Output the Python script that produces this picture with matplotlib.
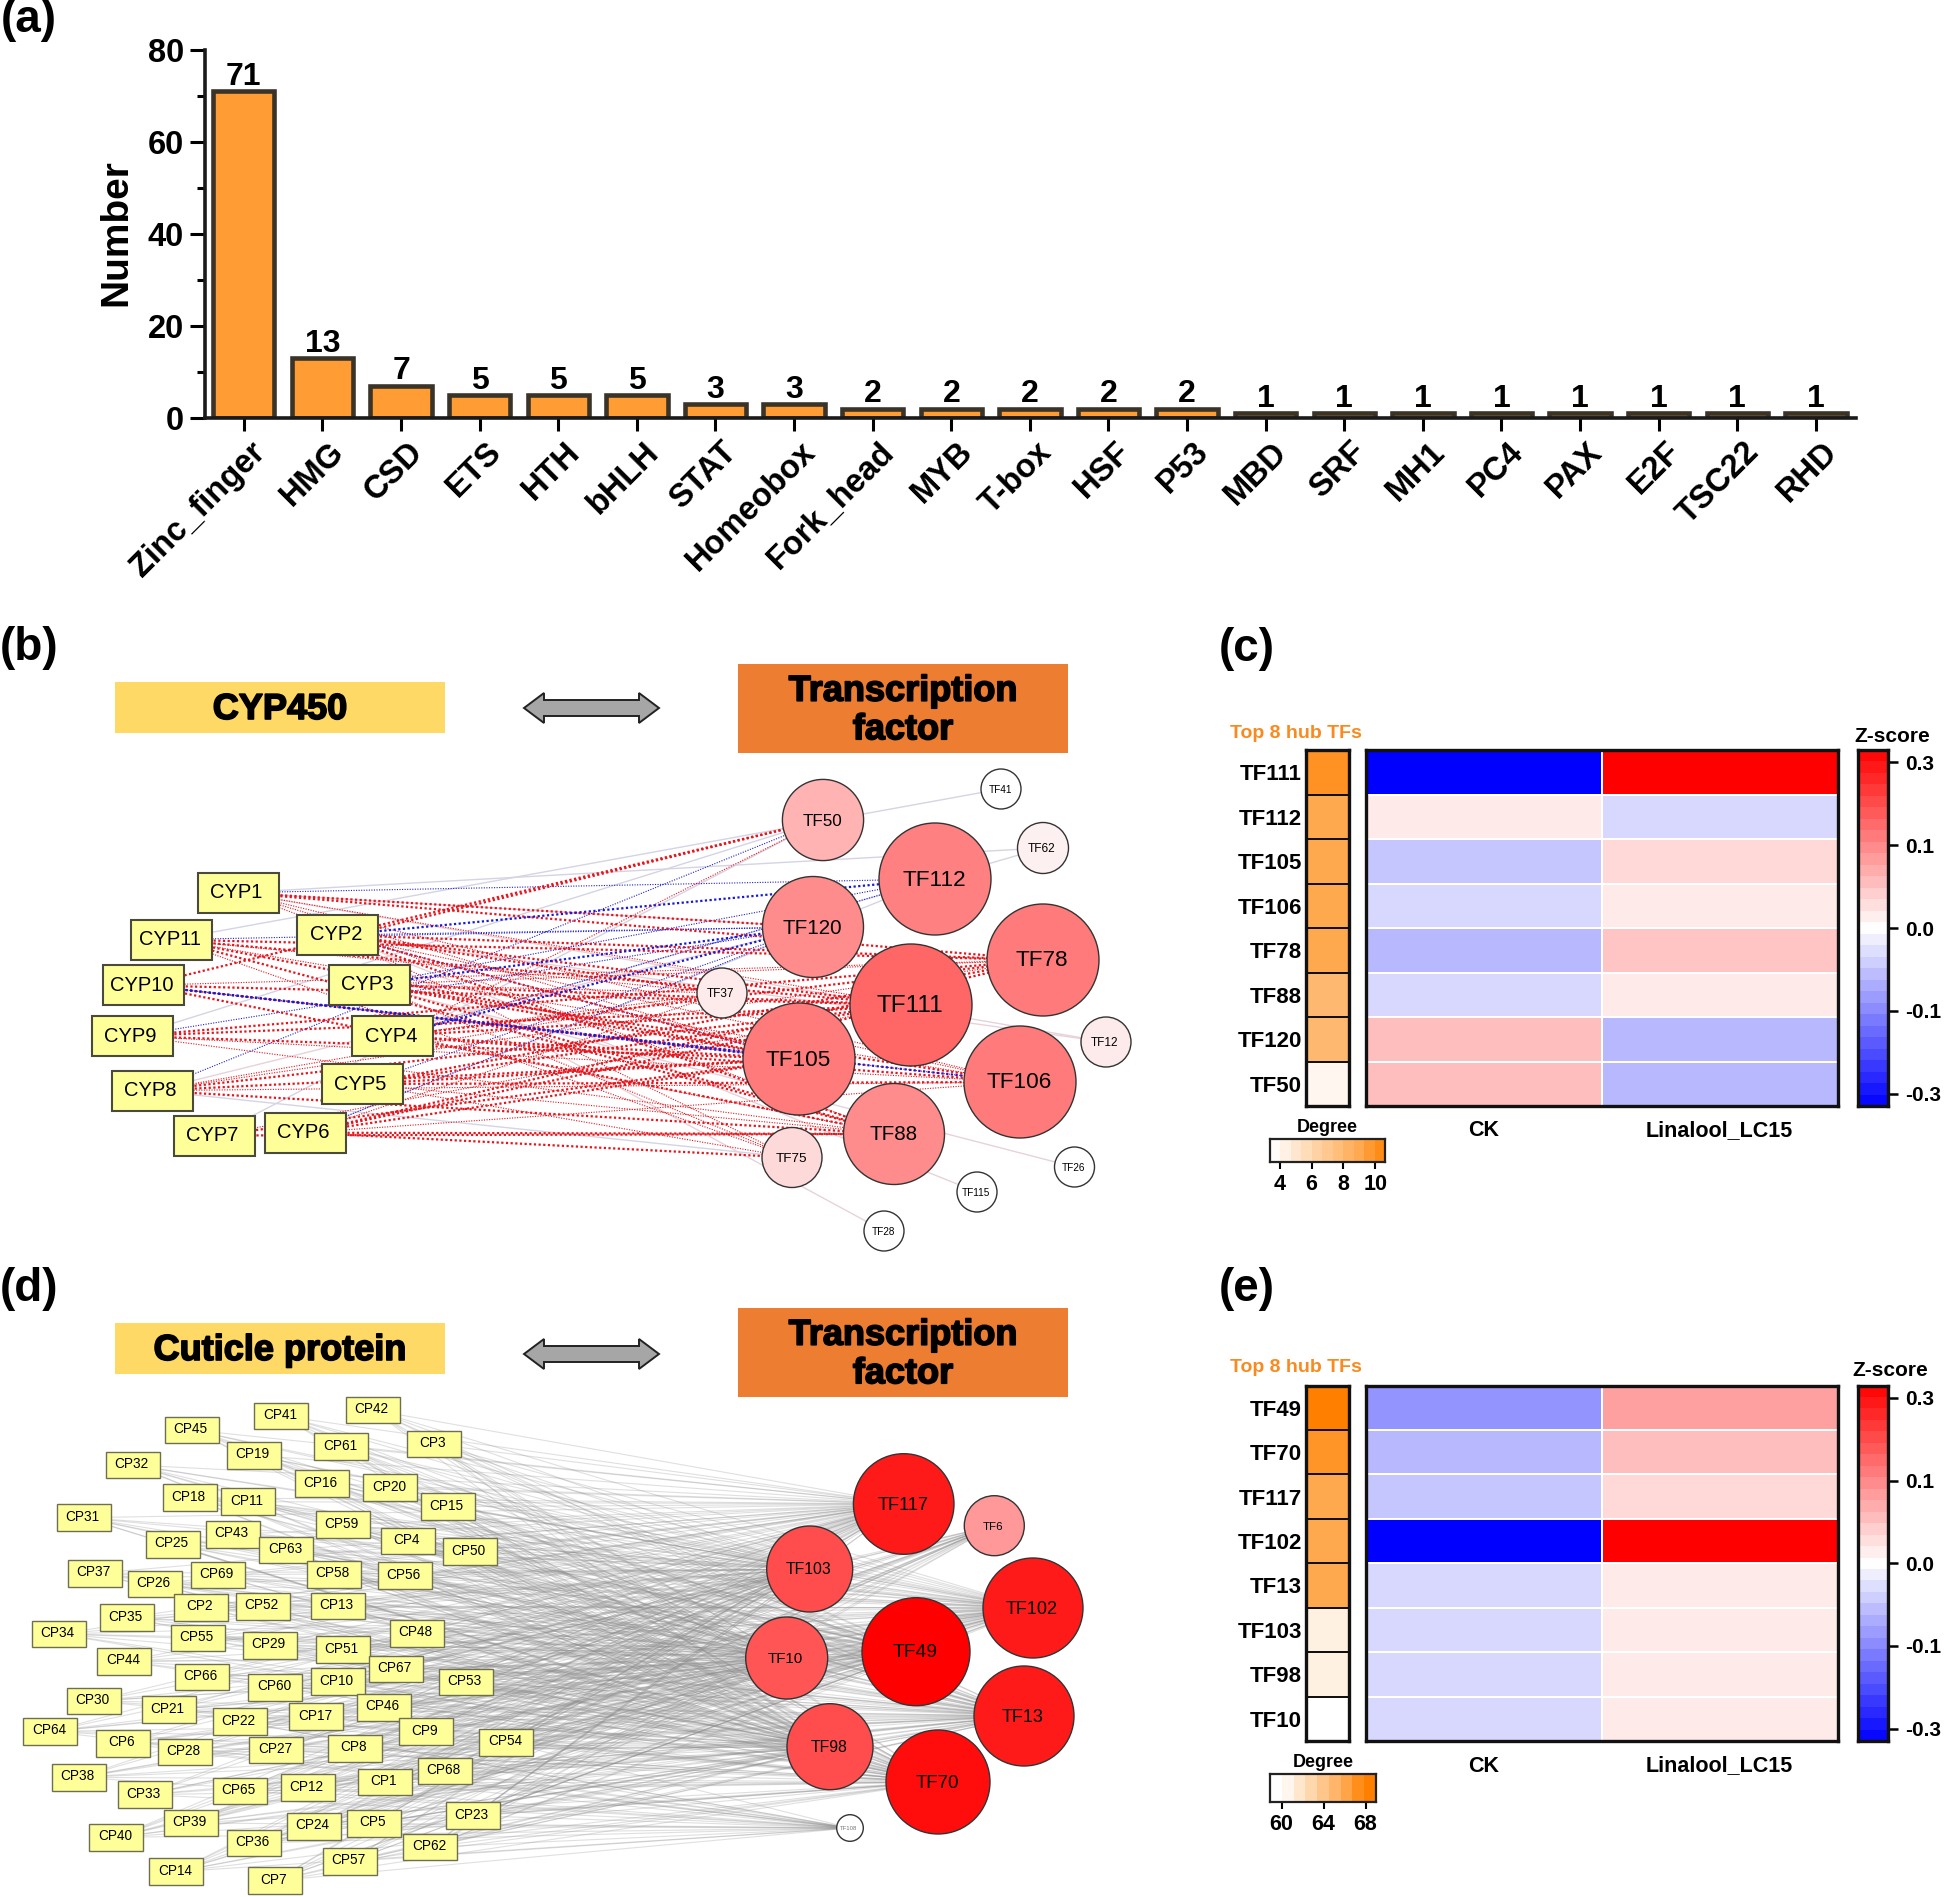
import matplotlib
matplotlib.use('Agg')
import matplotlib.pyplot as plt
import matplotlib.patheffects as pe
from matplotlib.collections import LineCollection
from matplotlib.colors import LinearSegmentedColormap, ListedColormap, BoundaryNorm, Normalize
from matplotlib.patches import Circle, Polygon, Rectangle
from matplotlib.transforms import ScaledTranslation
import numpy as np

plt.rcParams['font.family'] = ['Liberation Sans', 'DejaVu Sans']

W, H = 1944, 1897

# (a) TF families
families = ['Zinc_finger', 'HMG', 'CSD', 'ETS', 'HTH', 'bHLH', 'STAT', 'Homeobox', 'Fork_head', 'MYB', 'T-box',
            'HSF', 'P53', 'MBD', 'SRF', 'MH1', 'PC4', 'PAX', 'E2F', 'TSC22', 'RHD']
family_counts = [71, 13, 7, 5, 5, 5, 3, 3, 2, 2, 2, 2, 2, 1, 1, 1, 1, 1, 1, 1, 1]

# (b) network layout, picture pixels
cyp_names = ['CYP1', 'CYP2', 'CYP3', 'CYP4', 'CYP5', 'CYP6', 'CYP7', 'CYP8', 'CYP9', 'CYP10', 'CYP11']
cyp_x = [238.5, 337.8, 369.5, 392.8, 362, 305.5, 214.4, 152.7, 132.4, 143.7, 171.6]
cyp_y = [892.7, 935, 984.5, 1036, 1084, 1132.7, 1135.5, 1090.6, 1036, 985.3, 939.6]

b_tf_names = ['TF50', 'TF41', 'TF62', 'TF112', 'TF120', 'TF78', 'TF37', 'TF111', 'TF105', 'TF12', 'TF106', 'TF88',
              'TF75', 'TF26', 'TF115', 'TF28']
b_tf_x = [823, 1001, 1043, 935, 813, 1043, 722, 911, 799, 1106, 1020, 894, 792, 1074.5, 977, 884]
b_tf_y = [820, 789, 848, 879, 927, 960, 993, 1005, 1059, 1042, 1082, 1134, 1157.5, 1167, 1192, 1231]
b_tf_r = [40.6, 20, 25.5, 56, 50.5, 56, 25, 61, 56, 25, 56, 50.5, 30, 20, 20, 20]
b_tf_colors = ['#ffb3b3', '#ffffff', '#fdf0f0', '#ff8080', '#ff8c8c', '#ff7a7a', '#fdeaea', '#ff6666', '#ff7a7a',
               '#fdeaea', '#ff7a7a', '#ff8c8c', '#fdd9d9', '#ffffff', '#ffffff', '#ffffff']

# (b) edges as (CYP number, TF name)
red_strong = [(1, 'TF120'), (1, 'TF78'), (2, 'TF50'), (2, 'TF111'), (2, 'TF105'), (2, 'TF78'), (2, 'TF88'), (2, 'TF37'),
              (3, 'TF111'), (3, 'TF105'), (3, 'TF88'), (3, 'TF106'), (4, 'TF111'), (4, 'TF105'), (4, 'TF106'),
              (4, 'TF78'), (5, 'TF111'), (5, 'TF105'), (5, 'TF78'), (5, 'TF106'), (6, 'TF88'), (6, 'TF105'),
              (6, 'TF111'), (6, 'TF78'), (6, 'TF75'), (7, 'TF88'), (7, 'TF105'), (8, 'TF111'), (8, 'TF105'),
              (8, 'TF88'), (9, 'TF111'), (9, 'TF105'), (9, 'TF78'), (10, 'TF50'), (10, 'TF111'), (10, 'TF88'),
              (11, 'TF78'), (11, 'TF111'), (11, 'TF105'), (11, 'TF88')]
red_thin = [(1, 'TF111'), (1, 'TF105'), (1, 'TF88'), (1, 'TF106'), (2, 'TF106'), (2, 'TF75'), (3, 'TF78'), (3, 'TF37'),
            (3, 'TF75'), (4, 'TF88'), (4, 'TF37'), (4, 'TF50'), (5, 'TF88'), (5, 'TF75'), (6, 'TF106'), (6, 'TF37'),
            (7, 'TF111'), (8, 'TF106'), (8, 'TF37'), (8, 'TF78'), (9, 'TF88'), (9, 'TF106'), (10, 'TF105'),
            (10, 'TF78'), (10, 'TF106'), (11, 'TF37'), (11, 'TF106'), (11, 'TF75')]
blue_strong = [(2, 'TF112'), (3, 'TF120'), (4, 'TF120'), (10, 'TF106'), (10, 'TF105')]
blue_thin = [(1, 'TF112'), (11, 'TF120'), (3, 'TF112'), (4, 'TF112'), (9, 'TF120'), (8, 'TF50'), (5, 'TF120'),
             (6, 'TF120'), (2, 'TF120'), (2, 'TF105')]
faint_blue = [(1, 'TF120'), (11, 'TF41'), (1, 'TF62'), (7, 'TF50'), (8, 'TF75'), (4, 'TF62'), (9, 'TF50'), (6, 'TF112')]
faint_red = [(1, 'TF12'), (3, 'TF26'), (2, 'TF115'), (2, 'TF28'), (10, 'TF105'), (8, 'TF120'), (2, 'TF12')]

cp_numbers = [42, 3, 41, 45, 61, 19, 32, 16, 20, 15, 18, 11, 31, 59, 43, 25, 4, 63, 50, 37, 26, 69, 58, 56, 2, 52, 13,
              35, 34, 55, 29, 51, 48, 44, 66, 60, 10, 67, 53, 30, 21, 22, 17, 46, 9, 64, 6, 28, 27, 8, 54, 68, 38, 33,
              65, 12, 1, 23, 39, 24, 5, 40, 36, 62, 14, 57, 7]
cp_crop_x = [1043, 1214, 788, 538, 956, 712, 372, 901, 1093, 1255, 532, 694, 234, 961, 652, 483, 1141, 802, 1315, 265,
             433, 609, 936, 1133, 564, 735, 947, 355, 164, 555, 756, 959, 1167, 348, 565, 771, 946, 1109, 1304, 263,
             473, 671, 886, 1076, 1192, 141, 345, 517, 774, 994, 1418, 1247, 220, 406, 672, 862, 1078, 1324, 535, 879,
             1046, 326, 712, 1205, 494, 980, 770]
cp_crop_y = [90, 192, 108, 150, 200, 226, 255, 311, 323, 380, 353, 365, 413, 434, 463, 493, 483, 510, 515, 580, 612,
             585, 583, 587, 682, 679, 678, 713, 762, 774, 796, 809, 760, 844, 891, 922, 905, 867, 906, 963, 989, 1025,
             1010, 982, 1055, 1054, 1090, 1116, 1110, 1105, 1087, 1173, 1192, 1244, 1233, 1223, 1206, 1307, 1329, 1339,
             1330, 1372, 1389, 1401, 1475, 1444, 1502]

d_tf_names = ['TF117', 'TF6', 'TF103', 'TF102', 'TF49', 'TF10', 'TF13', 'TF98', 'TF70', 'TF108']
d_tf_x = [903.7, 994.3, 809.7, 1033, 916, 786.7, 1024, 830, 938, 850]
d_tf_y = [1504, 1525.7, 1569, 1608, 1651.7, 1658, 1716, 1746.7, 1782, 1828]
d_tf_r = [50.3, 30, 43, 50, 54, 41, 50, 43, 52, 13.3]
d_tf_colors = ['#ff1a1a', '#ff9999', '#ff4d4d', '#ff1a1a', '#ff0000', '#ff5555', '#ff1a1a', '#ff4d4d', '#ff0d0d',
               '#ffffff']

# TF6 and TF108 only link a part of the cuticle proteins
tf6_links = [1, 5, 7, 8, 9, 10, 12, 14, 17, 23, 24, 27, 36, 39, 40, 46, 53, 54, 57, 60, 62, 65, 67, 68]
tf108_links = [1, 5, 6, 7, 8, 12, 14, 21, 22, 23, 24, 27, 28, 33, 36, 38, 39, 40, 54, 57, 62, 64, 65, 68]

# (c) and (e) heatmaps
z_groups = ['CK', 'Linalool_LC15']
c_tfs = ['TF111', 'TF112', 'TF105', 'TF106', 'TF78', 'TF88', 'TF120', 'TF50']
c_degree = [10, 9, 9, 9, 9, 8, 8, 4]
c_ck = [-0.33, 0.017, -0.048, -0.032, -0.06, -0.032, 0.054, 0.054]
c_lc15 = [0.33, -0.032, 0.032, 0.017, 0.05, 0.017, -0.06, -0.06]

e_tfs = ['TF49', 'TF70', 'TF117', 'TF102', 'TF13', 'TF103', 'TF98', 'TF10']
e_degree = [68, 67, 66, 66, 66, 61, 61, 60]
e_ck = [-0.09, -0.06, -0.048, -0.33, -0.032, -0.032, -0.032, -0.032]
e_lc15 = [0.08, 0.054, 0.032, 0.33, 0.017, 0.017, 0.017, 0.017]

z_ticks = [-0.3, -0.1, 0.0, 0.1, 0.3]
z_tick_labels = ['-0.3', '-0.1', '0.0', '0.1', '0.3']

fig = plt.figure(figsize=(W / 100, H / 100), dpi=100, facecolor='white')

# Whole-figure axes in pixel units for the network panels and loose labels
canvas = fig.add_axes([0, 0, 1, 1], zorder=0)
canvas.set_xlim(0, W)
canvas.set_ylim(H, 0)
canvas.axis('off')


def px_axes(x0, y0, x1, y1, zorder=2):
    """Make an axes from pixel corners (y measured from the top)."""
    return fig.add_axes([x0 / W, 1 - y1 / H, (x1 - x0) / W, (y1 - y0) / H], zorder=zorder)


def draw_banner(x0, y0, x1, y1, color, text):
    canvas.add_patch(Rectangle((x0, y0), x1 - x0, y1 - y0, facecolor=color, edgecolor='none'))
    t = canvas.text((x0 + x1) / 2, (y0 + y1) / 2 + 2, text, ha='center', va='center', fontsize=26, fontweight='bold',
                    linespacing=1.13, color='black')
    t.set_path_effects([pe.withStroke(linewidth=1.2, foreground='black')])


def draw_double_arrow(y):
    x0, x1 = 524, 659
    shape = [(x0, y), (x0 + 20, y - 15), (x0 + 20, y - 8), (x1 - 20, y - 8), (x1 - 20, y - 15), (x1, y),
             (x1 - 20, y + 15), (x1 - 20, y + 8), (x0 + 20, y + 8), (x0 + 20, y + 15)]
    canvas.add_patch(Polygon(shape, closed=True, facecolor='#a6a6a6', edgecolor='#222222', linewidth=1.4))


def draw_tf_nodes(names, xs, ys, rs, colors, sizes, zorder=6):
    for name, x, y, r, color, size in zip(names, xs, ys, rs, colors, sizes):
        canvas.add_patch(Circle((x, y), r, facecolor=color, edgecolor='#333333', linewidth=1.0, zorder=zorder))
        text_color = '#777777' if name == 'TF108' else 'black'
        canvas.text(x - 1, y + 1, name, ha='center', va='center', fontsize=size, color=text_color, zorder=zorder + 1)


def draw_edges(pairs, cyp_pos, tf_pos, color, lw, style, alpha=1.0):
    segs = [[cyp_pos[c], tf_pos[t]] for c, t in pairs]
    canvas.add_collection(LineCollection(segs, colors=color, linewidths=lw, linestyles=style, alpha=alpha, zorder=2))


def z_to_pos(z):
    """Colour bar position of a z-score; the bar's tick labels are not linear."""
    return np.interp(z, [-0.33, -0.3, -0.1, 0.0, 0.1, 0.3, 0.33], [-2.15, -2, -1, 0, 1, 2, 2.15])


def draw_heatmap(top, bottom, tfs, degree, ck, lc15, deg_range, z_title_xy, hub_y, deg_bar, deg_ticks, label_y):
    left, right = 1365.6, 1838

    # Degree column
    ax_deg = px_axes(1306, top, 1349, bottom)
    ax_deg.pcolormesh(np.array(degree)[::-1].reshape(-1, 1), cmap=degree_cmap,
                      norm=Normalize(*deg_range), edgecolors='#111111', linewidth=1.2)
    ax_deg.set_xticks([])
    ax_deg.set_yticks(np.arange(len(tfs)) + 0.5)
    ax_deg.set_yticklabels(tfs[::-1], fontsize=16, fontweight='bold')
    ax_deg.tick_params(axis='y', length=0, pad=3)
    for s in ax_deg.spines.values():
        s.set_linewidth(2.4)
        s.set_color('#111111')

    # Z-score block
    ax_main = px_axes(left, top, right, bottom)
    cells = np.column_stack([ck, lc15])[::-1]
    ax_main.pcolormesh(z_to_pos(cells), cmap='bwr', norm=Normalize(-2.15, 2.15), edgecolors='white', linewidth=1.2)
    ax_main.set_xticks([])
    ax_main.set_yticks([])
    for s in ax_main.spines.values():
        s.set_linewidth(2.4)
        s.set_color('#111111')

    # Z-score colour bar, ticks are evenly spaced although their labels are not
    ax_bar = px_axes(1857.5, top, 1888, bottom)
    levels = np.linspace(-2.15, 2.15, 32)
    mids = (levels[:-1] + levels[1:]) / 2
    bar_cmap = ListedColormap(plt.get_cmap('bwr')((mids + 2.15) / 4.3))
    ax_bar.pcolormesh([0, 1], levels, mids.reshape(-1, 1), cmap=bar_cmap, norm=BoundaryNorm(levels, 31))
    ax_bar.set_xticks([])
    ax_bar.yaxis.tick_right()
    ax_bar.set_yticks(z_to_pos(np.array(z_ticks)))
    ax_bar.set_yticklabels(z_tick_labels, fontsize=15, fontweight='bold')
    ax_bar.tick_params(axis='y', length=7, width=1.8, pad=5)
    for s in ax_bar.spines.values():
        s.set_linewidth(2.4)
        s.set_color('#111111')

    # Degree legend
    x0, y0, x1, y1, vmin, vmax, steps = deg_bar
    ax_leg = px_axes(x0, y0, x1, y1)
    edges = np.linspace(vmin, vmax, steps + 1)
    leg_mids = (edges[:-1] + edges[1:]) / 2
    ax_leg.pcolormesh(edges, [0, 1], leg_mids.reshape(1, -1), cmap=degree_cmap, norm=Normalize(*deg_range))
    ax_leg.set_yticks([])
    ax_leg.set_xticks(deg_ticks)
    ax_leg.set_xticklabels([str(v) for v in deg_ticks], fontsize=15.5, fontweight='bold')
    ax_leg.tick_params(axis='x', length=5, width=1.5, pad=4)
    for s in ax_leg.spines.values():
        s.set_linewidth(1.6)
        s.set_color('#222222')

    # Labels
    canvas.text(1296, hub_y, 'Top 8 hub TFs', ha='center', va='center', fontsize=14, fontweight='bold', color='#f98a1f')
    canvas.text(z_title_xy[0], z_title_xy[1], 'Z-score', ha='center', va='center', fontsize=15, fontweight='bold')
    canvas.text((x0 + x1) / 2, y0 - 11, 'Degree', ha='center', va='center', fontsize=13, fontweight='bold')
    canvas.text(1483.7, label_y, z_groups[0], ha='center', va='center', fontsize=15.5, fontweight='bold')
    canvas.text(1719.4, label_y, z_groups[1], ha='center', va='center', fontsize=15.5, fontweight='bold')


degree_cmap = LinearSegmentedColormap.from_list('degree', [(0, '#ffffff'), (0.75, '#ffa950'), (1, '#ff8000')])

# Panel letters
for letter, x, y in [('(a)', 29, 20), ('(b)', 29, 648), ('(c)', 1247, 649), ('(d)', 29, 1289), ('(e)', 1247, 1289)]:
    canvas.text(x, y, letter, ha='center', va='center', fontsize=33, fontweight='bold')

# Panel a
ax = px_axes(205, 50, 1856, 418)
pos = np.arange(len(families))
ax.bar(pos, family_counts, width=0.78, color='#ff9c33', edgecolor='#3a3328', linewidth=3.3)
for i, v in zip(pos, family_counts):
    ax.text(i, v + 1.4, str(v), ha='center', va='baseline', fontsize=23, fontweight='bold')
ax.set_xlim(-0.494, 20.51)
ax.set_ylim(0, 80)
ax.set_xticks(pos)
ax.set_yticks([0, 20, 40, 60, 80])
ax.set_yticks([10, 30, 50, 70], minor=True)
ax.set_yticklabels(['0', '20', '40', '60', '80'], fontsize=23.5, fontweight='bold')
ax.tick_params(axis='y', which='major', length=11, width=2.2, pad=4)
ax.tick_params(axis='y', which='minor', length=6, width=2.2)
ax.tick_params(axis='x', length=9, width=2.2, pad=12)
ax.set_xticklabels(families, rotation=45, ha='right', va='center', rotation_mode='anchor', fontsize=23.5,
                   fontweight='bold')
# Labels sit a little to the right of their ticks; has to come after tick_params
shift = ScaledTranslation(17 / 100, 0, fig.dpi_scale_trans)
for label in ax.get_xticklabels():
    label.set_transform(label.get_transform() + shift)
ax.set_ylabel('Number', fontsize=28, fontweight='bold')
ax.yaxis.set_label_coords(-0.043, 0.503)
for side in ['top', 'right']:
    ax.spines[side].set_visible(False)
for side in ['left', 'bottom']:
    ax.spines[side].set_linewidth(2.6)
    ax.spines[side].set_color('#1a1a1a')
ax.patch.set_alpha(0)

# Panel b
draw_banner(115, 682, 445, 733, '#ffd966', 'CYP450')
draw_banner(738, 664, 1068, 753, '#ed7d31', 'Transcription\nfactor')
draw_double_arrow(708)

cyp_pos = {i + 1: (x, y) for i, (x, y) in enumerate(zip(cyp_x, cyp_y))}
b_tf_pos = {n: (x, y) for n, x, y in zip(b_tf_names, b_tf_x, b_tf_y)}
draw_edges(faint_blue, cyp_pos, b_tf_pos, '#d4d4e4', 1.0, 'solid')
draw_edges(faint_red, cyp_pos, b_tf_pos, '#e8d2d8', 1.0, 'solid')
draw_edges(red_thin, cyp_pos, b_tf_pos, '#e8141c', 0.8, (0, (1, 1.3)))
draw_edges(blue_thin, cyp_pos, b_tf_pos, '#2020d0', 0.8, (0, (1, 1.3)))
draw_edges(red_strong, cyp_pos, b_tf_pos, '#e8141c', 1.6, (0, (1, 1.1)))
draw_edges(blue_strong, cyp_pos, b_tf_pos, '#1818d8', 1.6, (0, (1, 1.1)))

for name, x, y in zip(cyp_names, cyp_x, cyp_y):
    canvas.add_patch(Rectangle((x - 40.5, y - 20), 81, 40, facecolor='#ffff99', edgecolor='#4a4a3c', linewidth=1.5,
                               zorder=4))
    canvas.text(x - 2, y, name, ha='center', va='center', fontsize=14.5, zorder=5)

draw_tf_nodes(b_tf_names, b_tf_x, b_tf_y, b_tf_r, b_tf_colors, [0.25 * r + 2.2 for r in b_tf_r])

# Panel c
draw_heatmap(750, 1106, c_tfs, c_degree, c_ck, c_lc15, (3.5, 10.8), (1892, 737), 733,
             (1270, 1139, 1385, 1161.5, 3.4, 10.6, 11), [4, 6, 8, 10], 1131)

# Panel d
draw_banner(115, 1323, 445, 1374, '#ffd966', 'Cuticle protein')
draw_banner(738, 1308, 1068, 1397, '#ed7d31', 'Transcription\nfactor')
draw_double_arrow(1354)

cp_px = np.array(cp_crop_x) / 2.8
cp_py = np.array(cp_crop_y) / 3 + 1380
d_tf_pos = {n: (x, y) for n, x, y in zip(d_tf_names, d_tf_x, d_tf_y)}
d_segs = []
for number, x, y in zip(cp_numbers, cp_px, cp_py):
    for name in d_tf_names:
        if name == 'TF6' and number not in tf6_links:
            continue
        if name == 'TF108' and number not in tf108_links:
            continue
        d_segs.append([(x, y), d_tf_pos[name]])
canvas.add_collection(LineCollection(d_segs, colors='#8c8c8c', linewidths=0.8, alpha=0.27, zorder=2))

for number, x, y in zip(cp_numbers, cp_px, cp_py):
    canvas.add_patch(Rectangle((x - 27, y - 13.3), 54, 26.6, facecolor='#ffff99', edgecolor='#6e6e50', linewidth=1.0,
                               zorder=4))
    canvas.text(x - 1.5, y - 1, f'CP{number}', ha='center', va='center', fontsize=9.8, zorder=5)

draw_tf_nodes(d_tf_names, d_tf_x, d_tf_y, d_tf_r, d_tf_colors, [0.235 * r + 1.2 for r in d_tf_r])

# Panel e
draw_heatmap(1385.5, 1741, e_tfs, e_degree, e_ck, e_lc15, (60, 68), (1890, 1371), 1368,
             (1270, 1773.6, 1376, 1802, 58.9, 69, 9), [60, 64, 68], 1766)

fig.savefig('out.png', dpi=100, facecolor='white')
